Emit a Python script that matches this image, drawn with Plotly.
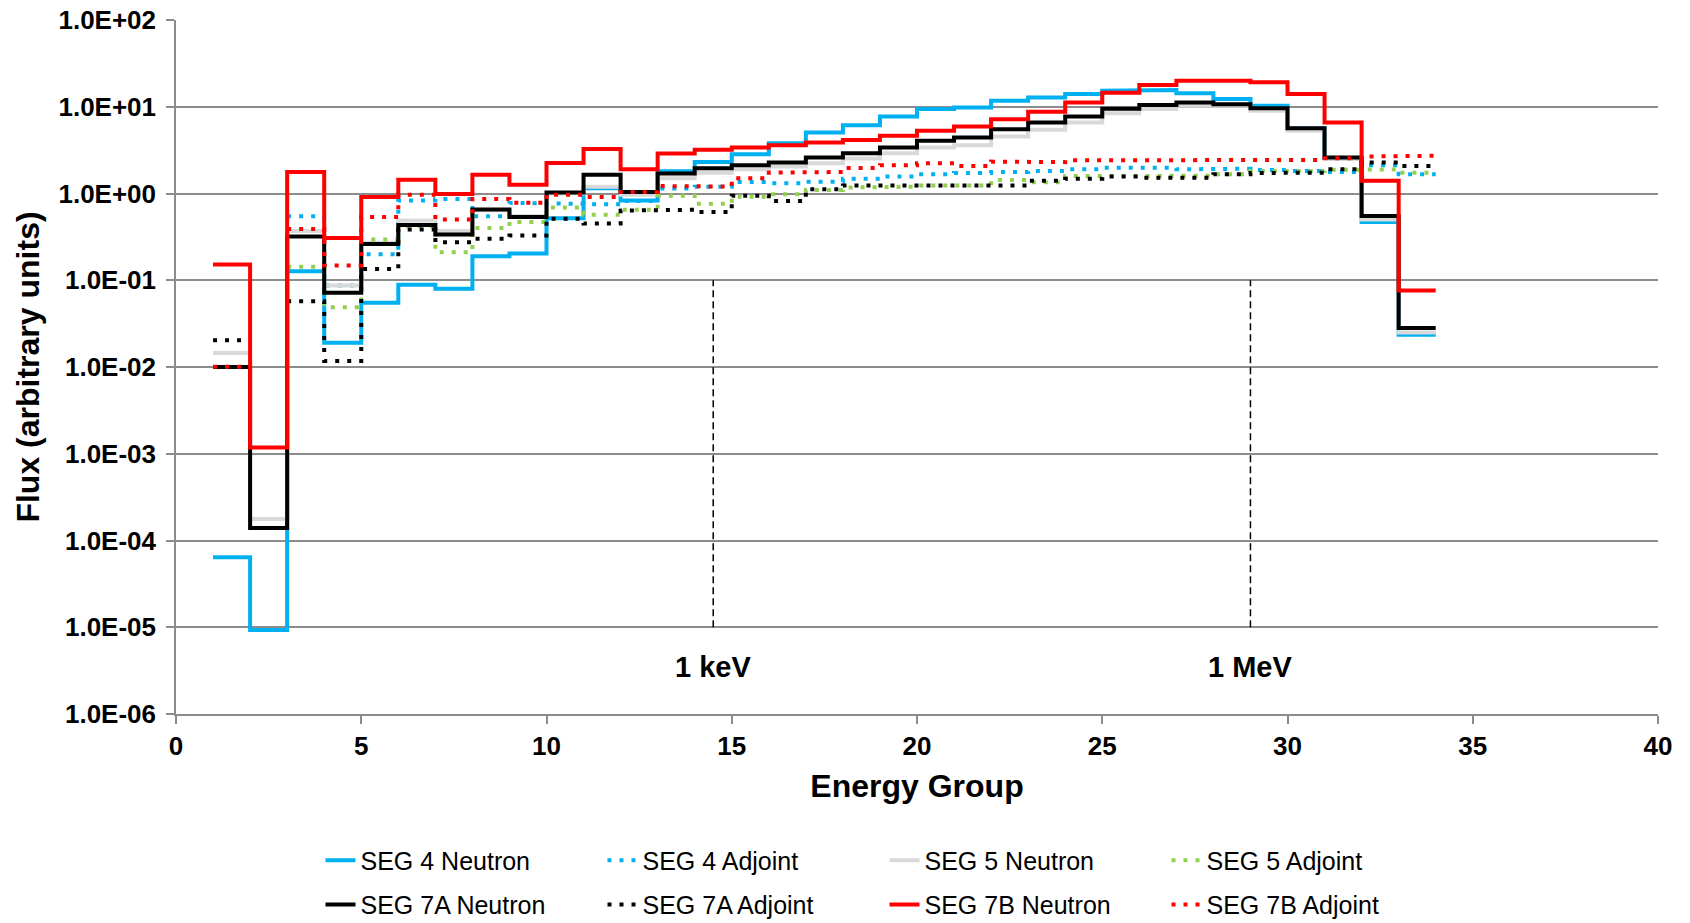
import plotly.graph_objects as go

groups = list(range(1, 34))

seg4_neutron = [6.4e-5, 9.3e-6, 0.127, 0.019, 0.055, 0.089, 0.080, 0.189, 0.203, 0.52,
                1.15, 0.83, 1.81, 2.3, 2.84, 3.8, 5.05, 6.14, 7.73, 9.4,
                9.8, 11.7, 12.8, 14.0, 15.3, 15.6, 14.3, 12.3, 10.3, 5.6,
                2.55, 0.47, 0.0235]
seg4_adjoint = [0.0100, None, 0.546, 0.087, 0.20, 0.83, 0.865, 0.546, 0.78, 0.76,
                0.75, 0.82, 1.14, 1.2, 1.36, 1.31, 1.37, 1.48, 1.57, 1.67,
                1.72, 1.77, 1.82, 1.90, 1.98, 1.98, 1.9, 1.93, 1.87, 1.82,
                1.77, 2.12, 1.67]
seg5_neutron = [0.0145, 1.77e-4, 0.37, 0.087, 0.27, 0.49, 0.37, 0.64, 0.55, 1.0,
                1.2, 0.97, 1.5, 1.74, 1.9, 2.05, 2.23, 2.53, 2.91, 3.39,
                3.6, 4.54, 5.42, 6.6, 8.4, 9.4, 10.3, 10.3, 9.0, 5.3,
                2.5, 0.5, 0.025]
seg5_adjoint = [0.0100, None, 0.143, 0.049, 0.294, 0.42, 0.21, 0.40, 0.47, 0.69,
                0.57, 0.65, 0.94, 0.76, 0.92, 0.98, 1.10, 1.17, 1.2, 1.24,
                1.24, 1.43, 1.35, 1.59, 1.57, 1.57, 1.6, 1.67, 1.82, 1.82,
                1.87, 1.9, 1.74]
seg7a_neutron = [0.0100, 1.39e-4, 0.32, 0.0716, 0.262, 0.434, 0.336, 0.652, 0.537, 1.03,
                 1.65, 1.04, 1.70, 1.95, 2.12, 2.27, 2.60, 2.91, 3.39, 4.05,
                 4.42, 5.52, 6.59, 7.73, 9.5, 10.5, 11.2, 10.7, 9.6, 5.67,
                 2.60, 0.55, 0.0281]
seg7a_adjoint = [0.0203, None, 0.0574, 0.0117, 0.135, 0.384, 0.274, 0.30, 0.327, 0.51,
                 0.45, 0.635, 0.65, 0.61, 0.94, 0.82, 1.12, 1.24, 1.24, 1.25,
                 1.24, 1.24, 1.40, 1.48, 1.57, 1.52, 1.52, 1.67, 1.72, 1.74,
                 1.9, 2.27, 2.08]
seg7b_neutron = [0.152, 1.18e-3, 1.77, 0.307, 0.91, 1.44, 0.99, 1.65, 1.26, 2.24,
                 3.25, 1.9, 2.9, 3.2, 3.39, 3.6, 3.87, 4.15, 4.62, 5.28,
                 5.93, 7.19, 8.75, 11.2, 14.5, 17.8, 20.0, 20.0, 19.1, 14.0,
                 6.6, 1.40, 0.076]
seg7b_adjoint = [0.0101, None, 0.39, 0.148, 0.537, 0.97, 0.50, 0.865, 0.78, 0.97,
                 0.91, 1.04, 1.22, 1.2, 1.5, 1.74, 1.77, 1.97, 2.12, 2.23,
                 2.08, 2.33, 2.3, 2.42, 2.4, 2.43, 2.43, 2.43, 2.43, 2.43,
                 2.55, 2.67, 2.72]

series_names = ["SEG 4 Neutron", "SEG 4 Adjoint", "SEG 5 Neutron", "SEG 5 Adjoint",
                "SEG 7A Neutron", "SEG 7A Adjoint", "SEG 7B Neutron", "SEG 7B Adjoint"]
series_vals = [seg4_neutron, seg4_adjoint, seg5_neutron, seg5_adjoint,
               seg7a_neutron, seg7a_adjoint, seg7b_neutron, seg7b_adjoint]
series_colors = ["#00B0F0", "#00B0F0", "#D9D9D9", "#92D050",
                 "#000000", "#000000", "#FF0000", "#FF0000"]
series_dotted = [False, True, False, True, False, True, False, True]

marker_x = [14.5, 29.0]
marker_labels = ["1 keV", "1 MeV"]
marker_y_range = [1e-5, 1e-1]
label_log_y = -5.46

y_tick_vals = [1e-6, 1e-5, 1e-4, 1e-3, 1e-2, 1e-1, 1e0, 1e1, 1e2]
y_tick_text = [f"{v:.1E}" for v in y_tick_vals]
x_tick_vals = list(range(0, 45, 5))

FONT = "Arial, 'Liberation Sans', sans-serif"


def step_path(gs, vals):
    xs, ys = [], []
    for g, v in zip(gs, vals):
        if v is None:
            xs.append(None)
            ys.append(None)
        else:
            xs += [g, g + 1]
            ys += [v, v]
    return xs, ys


fig = go.Figure()

for mx in marker_x:
    fig.add_trace(go.Scatter(x=[mx, mx], y=marker_y_range, mode="lines",
                             line=dict(color="black", width=1.5, dash="7px,4px"),
                             showlegend=False, hoverinfo="skip"))

for i, (name, vals, col, dotted) in enumerate(zip(series_names, series_vals,
                                                   series_colors, series_dotted)):
    xs, ys = step_path(groups, vals)
    fig.add_trace(go.Scatter(
        x=xs, y=ys, mode="lines", name=name,
        line=dict(color=col, width=4, dash="4px,8px" if dotted else "solid"),
        connectgaps=False,
        legend="legend" if i < 4 else "legend2",
    ))

for mx, lab in zip(marker_x, marker_labels):
    fig.add_annotation(x=mx, y=label_log_y, xref="x", yref="y", text=f"<b>{lab}</b>",
                       showarrow=False, font=dict(family=FONT, size=29, color="black"))

legend_common = dict(orientation="h", xanchor="left", yanchor="middle",
                     font=dict(family=FONT, size=25, color="black"),
                     entrywidth=237, bgcolor="rgba(0,0,0,0)", borderwidth=0,
                     tracegroupgap=0, itemwidth=30)

fig.update_layout(
    width=1690, height=923,
    margin=dict(l=176, r=32, t=20, b=209, autoexpand=False),
    paper_bgcolor="white", plot_bgcolor="white",
    font=dict(family=FONT, color="black"),
    legend=dict(x=0.0975, y=-0.211, **legend_common),
    legend2=dict(x=0.0975, y=-0.275, **legend_common),
    xaxis=dict(range=[0, 40], tickvals=x_tick_vals, showgrid=False, automargin=False,
               showline=True, linecolor="#8c8c8c", linewidth=1.5,
               ticks="outside", ticklen=8, tickcolor="#8c8c8c", tickwidth=1.5,
               tickfont=dict(family=FONT, size=26, color="black", weight="bold"),
               ticklabelstandoff=0,
               title=dict(text="<b>Energy Group</b>", font=dict(family=FONT, size=32, color="black"),
                          standoff=15),
               zeroline=False),
    yaxis=dict(type="log", range=[-6, 2], tickvals=y_tick_vals, ticktext=y_tick_text,
               showgrid=True, gridcolor="#8c8c8c", gridwidth=1.5, automargin=False,
               showline=True, linecolor="#8c8c8c", linewidth=1.5,
               ticks="outside", ticklen=8, tickcolor="#8c8c8c", tickwidth=1.5,
               tickfont=dict(family=FONT, size=26, color="black", weight="bold"),
               ticklabelstandoff=5,
               title=dict(text="<b>Flux (arbitrary units)</b>", font=dict(family=FONT, size=32, color="black"),
                          standoff=9),
               zeroline=False),
)

fig.write_html("out.html", config={"displayModeBar": False},
               post_script="document.body.style.margin='0px';")
